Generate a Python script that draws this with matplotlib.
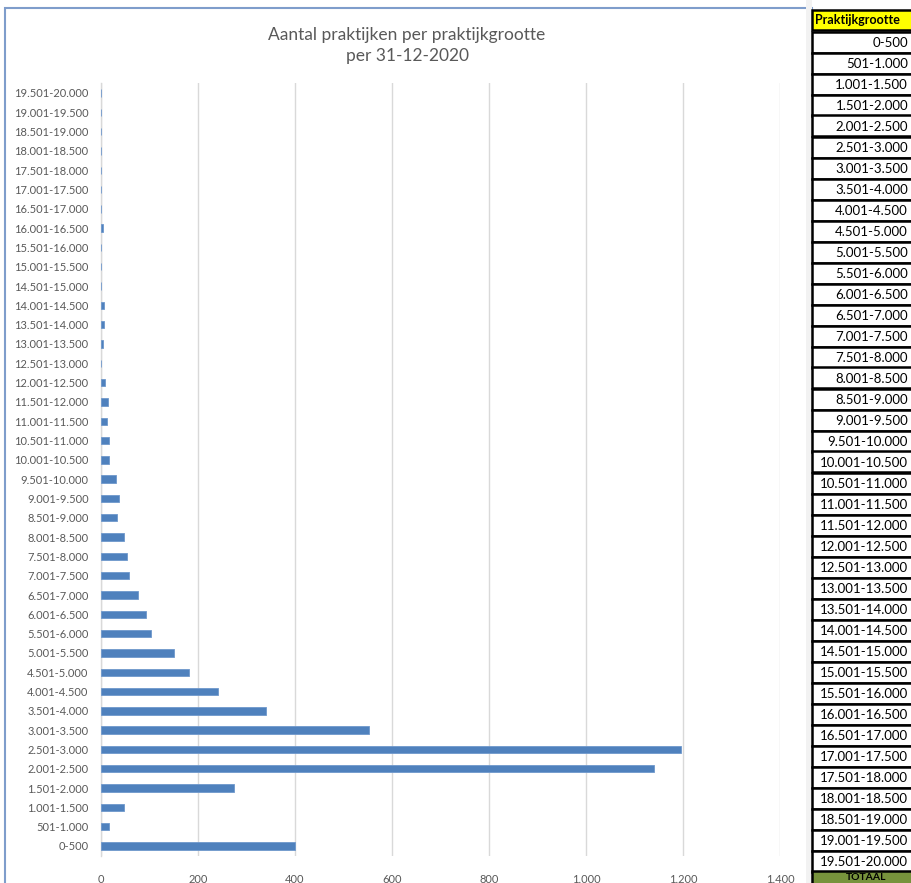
import matplotlib
matplotlib.use("Agg")
import matplotlib.pyplot as plt
from matplotlib.patches import Rectangle
from matplotlib.ticker import FuncFormatter

categories = ["0-500", "501-1.000", "1.001-1.500", "1.501-2.000", "2.001-2.500",
              "2.501-3.000", "3.001-3.500", "3.501-4.000", "4.001-4.500", "4.501-5.000",
              "5.001-5.500", "5.501-6.000", "6.001-6.500", "6.501-7.000", "7.001-7.500",
              "7.501-8.000", "8.001-8.500", "8.501-9.000", "9.001-9.500", "9.501-10.000",
              "10.001-10.500", "10.501-11.000", "11.001-11.500", "11.501-12.000",
              "12.001-12.500", "12.501-13.000", "13.001-13.500", "13.501-14.000",
              "14.001-14.500", "14.501-15.000", "15.001-15.500", "15.501-16.000",
              "16.001-16.500", "16.501-17.000", "17.001-17.500", "17.501-18.000",
              "18.001-18.500", "18.501-19.000", "19.001-19.500", "19.501-20.000"]
counts = [400, 17, 47, 275, 1140, 1195, 553, 340, 242, 181,
          150, 103, 93, 76, 58, 54, 48, 32, 37, 31,
          17, 17, 12, 15, 8, 1, 4, 7, 7, 0,
          1, 1, 4, 0, 1, 1, 0, 0, 0, 1]
xticks = [0, 200, 400, 600, 800, 1000, 1200, 1400]
title_lines = ["Aantal praktijken per praktijkgrootte", "per 31-12-2020"]
table_header = "Praktijkgrootte"
table_total = "TOTAAL"

FONT = ["Lato", "DejaVu Sans"]
plt.rcParams["font.family"] = FONT

W, H = 911, 883
fig = plt.figure(figsize=(W / 100, H / 100), dpi=100)
fig.patch.set_facecolor("white")

def fx(px):
    return px / W

def fy(py):
    return 1 - py / H

# chart frame
frame = Rectangle((fx(5), fy(895)), fx(812) - fx(5), fy(8) - fy(895),
                  transform=fig.transFigure, fill=False, edgecolor="#7F9DCB",
                  linewidth=1.5, zorder=0)
fig.add_artist(frame)

# plot area
n = len(categories)
y_top_center, y_bot_center = 93, 846
step = (y_bot_center - y_top_center) / (n - 1)
top_px = y_top_center - step / 2
bot_px = y_bot_center + step / 2
left_px, right_px = 101, 780
ax = fig.add_axes([fx(left_px), fy(bot_px), fx(right_px) - fx(left_px), (bot_px - top_px) / H])
ax.barh(range(n), counts, height=0.38, color="#4F81BD", edgecolor="#6F98CC",
        linewidth=0.6, zorder=3)
ax.set_ylim(-0.5, n - 0.5)
ax.set_xlim(0, 1400)
ax.set_yticks(range(n))
ax.set_yticklabels(categories)
ax.set_xticks(xticks)
ax.xaxis.set_major_formatter(FuncFormatter(lambda v, p: f"{int(v):,}".replace(",", ".")))
ax.grid(axis="x", color="#D9D9D9", linewidth=1.0, zorder=0)
ax.set_axisbelow(True)
for s in ["top", "right", "bottom"]:
    ax.spines[s].set_visible(False)
ax.spines["left"].set_color("#D9D9D9")
ax.spines["left"].set_linewidth(1.0)
ax.tick_params(axis="both", length=0, labelsize=8, colors="#595959")
ax.tick_params(axis="y", pad=9)
ax.tick_params(axis="x", pad=13)
ax.set_facecolor("none")

# title
fig.text(fx(407), fy(35), title_lines[0], ha="center", va="center", fontsize=12.5,
         color="#595959")
fig.text(fx(407), fy(56), title_lines[1], ha="center", va="center", fontsize=12.5,
         color="#595959")

# gap column between chart and table
fig.add_artist(Rectangle((fx(806), 0), fx(812) - fx(806), 1, transform=fig.transFigure,
                         facecolor="#F2F2F2", edgecolor="none", zorder=1))

# table on the right
tbl_left = 812
row_h = 21.0
first_center = 42
header_top = 10
fig.add_artist(Rectangle((fx(tbl_left), fy(header_top + 20)), fx(W + 5) - fx(tbl_left), 20 / H,
                         transform=fig.transFigure, facecolor="#FFFF00",
                         edgecolor="black", linewidth=1.8, zorder=2))
fig.text(fx(815), fy(header_top + 10.5), table_header, ha="left", va="center",
         fontsize=9, fontweight="bold", color="black", zorder=3)
for i, lab in enumerate(categories):
    c = first_center + i * row_h
    fig.add_artist(Rectangle((fx(tbl_left), fy(c + row_h / 2)), fx(W + 5) - fx(tbl_left),
                             row_h / H, transform=fig.transFigure, facecolor="white",
                             edgecolor="black", linewidth=1.8, zorder=2))
    fig.text(fx(908), fy(c + 1), lab, ha="right", va="center", fontsize=9.5,
             color="black", zorder=3)
c_tot = first_center + n * row_h
fig.add_artist(Rectangle((fx(tbl_left), fy(c_tot + row_h / 2)), fx(W + 5) - fx(tbl_left),
                         row_h / H, transform=fig.transFigure, facecolor="#77933C",
                         edgecolor="black", linewidth=1.8, zorder=2))
fig.text(fx(866), fy(877.5), table_total, ha="center", va="center", fontsize=7.5,
         fontweight="bold", color="black", zorder=3)

fig.savefig("out.png", dpi=100, facecolor="white")
